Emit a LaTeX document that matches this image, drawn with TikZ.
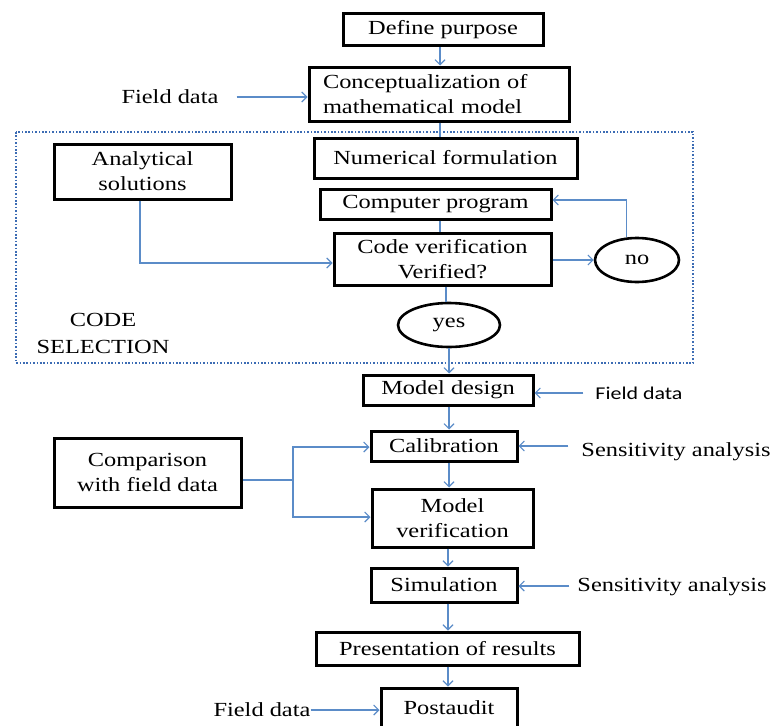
\documentclass[tikz,border=0pt]{standalone}
\usepackage{fontspec}
\setmainfont{Liberation Serif}[FakeStretch=1.22]
\newfontfamily\labelsans{Carlito}[FakeStretch=1.22]
\usetikzlibrary{arrows.meta,shapes.geometric,calc}
\definecolor{flowblue}{HTML}{5B8CC8}
\definecolor{dotblue}{HTML}{3C6CB4}

\begin{document}
\begin{tikzpicture}[x=1pt,y=-1pt,
  txt/.style={font=\fontsize{20}{25}\selectfont},
  box/.style={txt,draw=black,line width=3pt,inner sep=0pt,align=center},
  oval/.style={txt,ellipse,draw=black,line width=2.6pt,inner sep=0pt},
  lbl/.style={txt,inner sep=0pt,align=center},
  arr/.style={draw=flowblue,line width=1.1pt,-{Straight Barb[length=5pt,width=10pt,line width=1.1pt]}},
  link/.style={draw=flowblue,line width=1.1pt},
  zone/.style={draw=dotblue,line width=2.3pt,dash pattern=on 1.6pt off 1.8pt}]

\useasboundingbox (0,0) rectangle (773,725);
\fill[white] (0,0) rectangle (773,725);

% code selection zone
\draw[zone] (16,132) rectangle (693,363);
\node[lbl] (codesel) at (103,333) {CODE\\[2pt]SELECTION};

% main column
\node[box,minimum width=200pt,minimum height=32pt] (def) at (443,29.5) {Define purpose};
\node[box,minimum width=260pt,minimum height=54pt,text width=232pt,align=left] (concept) at (439,94) {Conceptualization of\\mathematical model};
\node[box,minimum width=263pt,minimum height=40pt] (num) at (445.5,158) {Numerical formulation};
\node[box,minimum width=231pt,minimum height=30pt] (comp) at (435.5,204) {Computer program};
\node[box,minimum width=217pt,minimum height=52pt] (cv) at (442.5,259) {Code verification\\Verified?};
\node[oval,minimum width=84pt,minimum height=44pt] (no) at (637,260) {no};
\node[oval,minimum width=102pt,minimum height=44pt] (yes) at (449,325) {yes};
\node[box,minimum width=177pt,minimum height=55pt] (ana) at (142.5,171.5) {Analytical\\solutions};

\node[box,minimum width=170pt,minimum height=30pt] (md) at (448,390) {Model design};
\node[box,minimum width=146pt,minimum height=30pt] (cal) at (444,446) {Calibration};
\node[box,minimum width=161pt,minimum height=58pt] (mv) at (452.5,518) {Model\\verification};
\node[box,minimum width=187pt,minimum height=69pt] (cmp) at (147.5,472.5) {Comparison\\with field data};
\node[box,minimum width=146pt,minimum height=34pt] (sim) at (444,585) {Simulation};
\node[box,minimum width=263pt,minimum height=33pt] (pres) at (447.5,648.5) {Presentation of results};
\node[box,minimum width=136pt,minimum height=40pt] (post) at (449,708) {Postaudit};

% side labels
\node[lbl] (fd1) at (170,97) {Field data};
\node[lbl,font=\labelsans\fontsize{18}{22}\selectfont] (fd2) at (639,393) {Field data};
\node[lbl] (sa1) at (676,452) {Sensitivity analysis};
\node[lbl] (sa2) at (672,587) {Sensitivity analysis};
\node[lbl] (fd3) at (262,710) {Field data};

% connectors
\draw[arr] (def.south -| 440,0) -- (concept.north -| 440,0);
\draw[arr,shorten <=18pt] (fd1.east) -- (fd1.east -| concept.west);
\draw[link] (concept.south -| 440,0) -- (num.north -| 440,0);
\draw[link] (comp.south -| 440,0) -- (cv.north -| 440,0);
\draw[arr] (no.west -| cv.east) -- (no.west);
\draw[arr] (no.114) |- (comp.east |- 0,200);
\draw[link] (cv.south -| 446,0) -- (yes.north -| 446,0);
\draw[arr] (ana.south -| 140,0) |- (cv.west |- 0,263);
\draw[arr] (yes.south) -- (yes.south |- md.north);

\draw[arr,shorten <=12pt] (fd2.west) -- (fd2.west -| md.east);
\draw[arr] (md.south -| 449,0) -- (cal.north -| 449,0);
\draw[arr,shorten <=13pt] (sa1.west |- 0,446) -- (cal.east |- 0,446);
\draw[arr] (cal.south -| 449,0) -- (mv.north -| 449,0);
\coordinate (split) at (293,480);
\draw[link] (cmp.east |- split) -- (split);
\draw[arr] (split) |- (cal.west |- 0,447);
\draw[arr] (split) |- (mv.west |- 0,517);
\draw[arr] (mv.south -| 448,0) -- (sim.north -| 448,0);
\draw[arr,shorten <=8pt] (sa2.west |- 0,586) -- (sim.east |- 0,586);
\draw[arr] (sim.south -| 448,0) -- (pres.north -| 448,0);
\draw[arr] (pres.south -| 448,0) -- (post.north -| 448,0);
\draw[arr] (fd3.east) -- (fd3.east -| post.west);
\end{tikzpicture}
\end{document}
